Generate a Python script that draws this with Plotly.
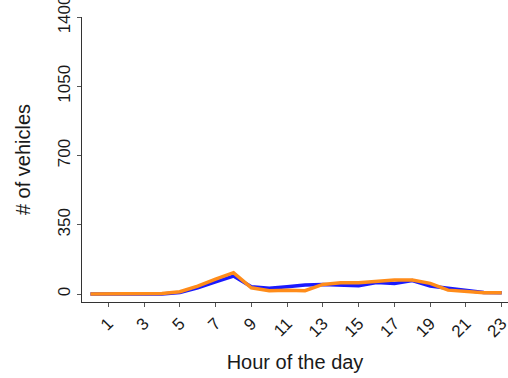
import plotly.graph_objects as go

hours = list(range(24))
blue_vals = [0, 0, 1, 3, 1, 8, 32, 62, 91, 37, 29, 37, 46, 49, 46, 42, 59, 54, 68, 41, 29, 20, 8, 7]
orange_vals = [0, 0, 0, 3, 3, 12, 40, 76, 108, 32, 17, 20, 17, 49, 57, 57, 62, 71, 71, 54, 20, 12, 7, 7]
x_ticks = list(range(1, 24, 2))
y_ticks = [0, 350, 700, 1050, 1400]

fig = go.Figure()
fig.add_trace(go.Scatter(x=hours, y=blue_vals, mode="lines",
                         line=dict(color="#1a1aff", width=3.5), showlegend=False))
fig.add_trace(go.Scatter(x=hours, y=orange_vals, mode="lines",
                         line=dict(color="#ff8c1a", width=3.5), showlegend=False))

fig.update_layout(
    width=508, height=378,
    margin=dict(l=82, r=0, t=17, b=76),
    plot_bgcolor="white", paper_bgcolor="white",
    font=dict(family="Liberation Sans, Arial, sans-serif", color="#1a1a1a", size=17),
)
fig.update_xaxes(
    range=[-0.47, 23.35], tickvals=x_ticks, ticktext=[str(v) for v in x_ticks],
    tickangle=-45, ticks="outside", ticklen=4, tickcolor="#555", automargin=False,
    ticklabeloverflow="allow",
    showline=True, linecolor="#333", linewidth=1, showgrid=False, zeroline=False,
    title=dict(text="Hour of the day", font=dict(size=20), standoff=14),
)
fig.update_yaxes(
    range=[-40, 1400], tickvals=y_ticks, ticktext=[str(v) for v in y_ticks],
    tickangle=-90, ticks="outside", ticklen=4, tickcolor="#555", automargin=False,
    ticklabeloverflow="allow",
    showline=True, linecolor="#333", linewidth=1, showgrid=False, zeroline=False,
    title=dict(text="# of vehicles", font=dict(size=20), standoff=19),
)
fig.write_html("out.html", config={"displayModeBar": False},
               post_script="document.body.style.margin='0';")
